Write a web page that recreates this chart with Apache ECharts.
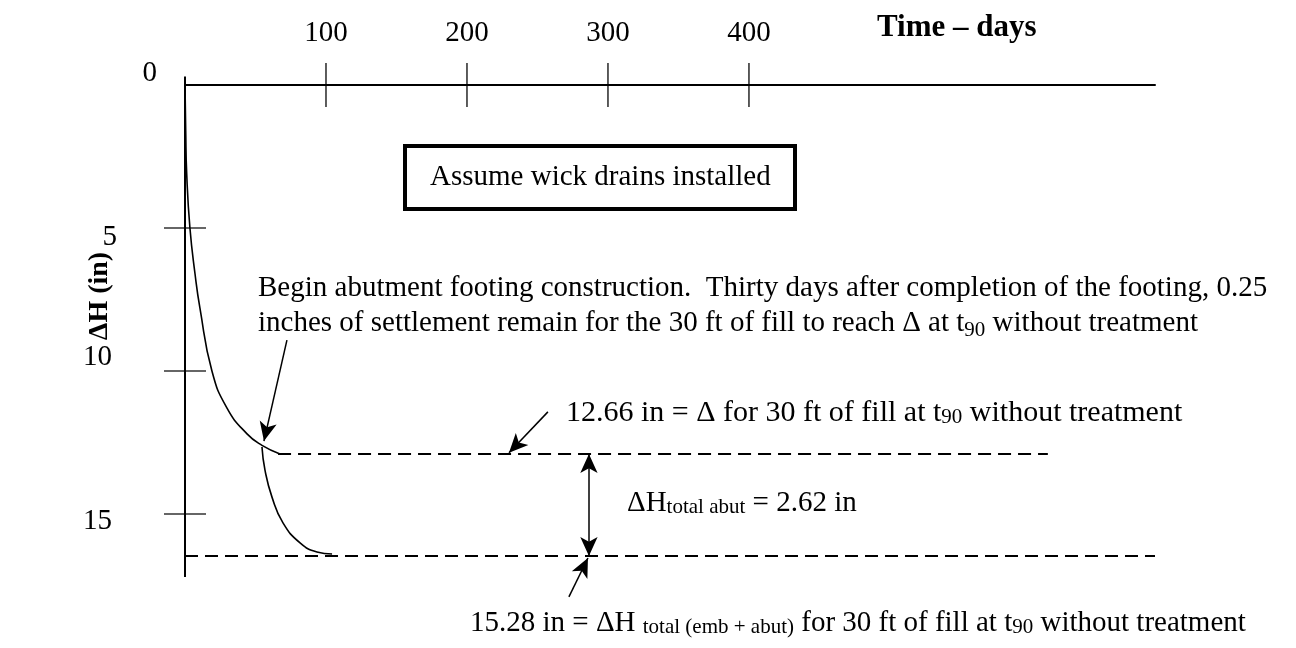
<!DOCTYPE html>
<html>
<head>
<meta charset="utf-8">
<title>Settlement vs time</title>
<script src="https://cdn.jsdelivr.net/npm/echarts@6/dist/echarts.min.js"></script>
<style>
	html, body { margin: 0; padding: 0; background: #fff; }
	#mainChart { width: 1296px; height: 648px; }
</style>
</head>
<body>
<div id="mainChart"></div>
<script>
// values: time in days, settlement dH in inches
var curve1Days = [0, 0.5, 1.2, 3.5, 7.1, 10.6, 19.1, 29.8, 44.0, 54.6, 67.4];
var curve1Settle = [0, 1.6, 3.1, 5.0, 6.6, 7.8, 10.0, 11.3, 12.2, 12.6, 12.9];
var curve2Days = [54.6, 56.7, 61.7, 69.5, 81.6, 93.6, 104.3];
var curve2Settle = [12.66, 13.46, 14.41, 15.31, 16.01, 16.33, 16.40];

var xTickValues = [100, 200, 300, 400];
var yTickValues = [5, 10, 15];
var yLabelValues = [0, 5, 10, 15];

var embLevel = 12.9;     // 12.66 in line
var totalLevel = 16.47;  // 15.28 in line
var embDashDays = [66, 612];
var totalDashDays = [0, 688];
var axisDays = [0, 688];
var axisSettle = [-0.3, 18.5];
var frameSettle = [-0.3, 17.2];

// annotation arrows, [from, to] in days / inches
var arrowFrom = [[72.3, 8.92], [257.4, 11.43], [286.5, 12.9], [272.3, 17.9]];
var arrowTo = [[56.0, 12.45], [229.8, 12.86], [286.5, 16.47], [285.8, 16.54]];

(function () {
	var FONT = "'Liberation Serif', 'Times New Roman', serif";
	var myChart = echarts.init(document.getElementById('mainChart'));

	function zip(a, b) {
		var out = [];
		for (var i = 0; i < a.length; i++) {
			out.push([a[i], b[i]]);
		}
		return out;
	}

	var xTicks = [];
	for (var i = 0; i < xTickValues.length; i++) xTicks.push([xTickValues[i], 0]);
	var yTicks = [];
	for (var j = 0; j < yTickValues.length; j++) yTicks.push([0, yTickValues[j]]);

	// arrow list: 0 begin-footing, 1 12.66 label, 2 double headed, 3 curved from bottom label
	var arrows = [];
	for (var k = 0; k < arrowFrom.length; k++) {
		var a = { coord: arrowFrom[k], symbol: k == 2 ? 'arrow' : 'none' };
		if (k == 3) a.lineStyle = { curveness: -0.25 };
		arrows.push([a, { coord: arrowTo[k], symbol: 'arrow' }]);
	}

	var yLabelStyle = { 0: 'a', 5: 'b', 10: 'c', 15: 'd' };
	var black = { color: '#000', width: 1.6 };

	function txt(x, y, text, extra) {
		var style = {
			text: text,
			fill: '#000',
			fontSize: 29,
			fontFamily: FONT,
			verticalAlign: 'middle',
			rich: { s: { fontSize: 21, lineHeight: 20, verticalAlign: 'bottom', fontFamily: FONT } }
		};
		for (var key in extra) style[key] = extra[key];
		return { type: 'text', x: x, y: y, silent: true, style: style };
	}

	var option = {
		backgroundColor: '#ffffff',
		animation: false,
		grid: { left: 185, top: 76.4, width: 970, height: 537.7 },
		xAxis: {
			type: 'value',
			position: 'top',
			min: axisDays[0],
			max: axisDays[1],
			axisLine: { onZero: true, lineStyle: { color: '#000', width: 2 } },
			axisTick: { show: false },
			splitLine: { show: false },
			axisLabel: {
				customValues: xTickValues,
				margin: 29,
				color: '#000',
				fontSize: 29,
				fontFamily: FONT
			}
		},
		yAxis: {
			type: 'value',
			inverse: true,
			min: axisSettle[0],
			max: axisSettle[1],
			axisLine: { show: false },
			axisTick: { show: false },
			splitLine: { show: false },
			axisLabel: {
				customValues: yLabelValues,
				margin: 28,
				color: '#000',
				fontSize: 29,
				fontFamily: FONT,
				formatter: function (v) {
					return '{' + yLabelStyle[v] + '|' + v + '}';
				},
				rich: {
					a: { fontSize: 29, fontFamily: FONT, padding: [0, 0, 24, 0] },
					b: { fontSize: 29, fontFamily: FONT, padding: [18, 40, 0, 0] },
					c: { fontSize: 29, fontFamily: FONT, padding: [0, 45, 28, 0] },
					d: { fontSize: 29, fontFamily: FONT, padding: [14, 45, 0, 0] }
				}
			}
		},
		series: [{
			name: 'frame',
			type: 'line',
			clip: false,
			silent: true,
			symbol: 'none',
			lineStyle: { color: '#000', width: 2 },
			data: [[0, frameSettle[0]], [0, frameSettle[1]]],
			markLine: {
				silent: true,
				symbol: ['none', 'arrow'],
				symbolSize: [13, 19],
				label: { show: false },
				lineStyle: { color: '#000', width: 1.5, type: 'solid' },
				data: arrows
			}
		}, {
			name: 'before footing',
			type: 'line',
			clip: false,
			silent: true,
			smooth: true,
			symbol: 'none',
			lineStyle: black,
			data: zip(curve1Days, curve1Settle)
		}, {
			name: 'after footing',
			type: 'line',
			clip: false,
			silent: true,
			smooth: true,
			symbol: 'none',
			lineStyle: black,
			data: zip(curve2Days, curve2Settle)
		}, {
			name: 'emb',
			type: 'line',
			clip: false,
			silent: true,
			symbol: 'none',
			lineStyle: { color: '#000', width: 2, type: [13, 7] },
			data: [[embDashDays[0], embLevel], [embDashDays[1], embLevel]]
		}, {
			name: 'total',
			type: 'line',
			clip: false,
			silent: true,
			symbol: 'none',
			lineStyle: { color: '#000', width: 2, type: [13, 7] },
			data: [[totalDashDays[0], totalLevel], [totalDashDays[1], totalLevel]]
		}, {
			name: 'xticks',
			type: 'scatter',
			clip: false,
			silent: true,
			symbol: 'rect',
			symbolSize: [1.6, 44],
			itemStyle: { color: '#000' },
			data: xTicks
		}, {
			name: 'yticks',
			type: 'scatter',
			clip: false,
			silent: true,
			symbol: 'rect',
			symbolSize: [42, 1.6],
			itemStyle: { color: '#000' },
			data: yTicks
		}],
		graphic: [
			{
				type: 'rect',
				silent: true,
				shape: { x: 405, y: 146, width: 390, height: 63 },
				style: { fill: '#fff', stroke: '#000', lineWidth: 4 }
			},
			txt(430, 177, 'Assume wick drains installed'),
			txt(258, 270.5, 'Begin abutment footing construction.  Thirty days after completion of the footing, 0.25\n' +
				'inches of settlement remain for the 30 ft of fill to reach \u0394 at t{s|90} without treatment',
				{ verticalAlign: 'top', lineHeight: 35 }),
			txt(566, 413, '12.66 in = \u0394 for 30 ft of fill at t{s|90} without treatment', { fontSize: 30 }),
			txt(627, 503, '\u0394H{s|total abut} = 2.62 in'),
			txt(470, 623, '15.28 in = \u0394H {s|total (emb + abut)} for 30 ft of fill at t{s|90} without treatment'),
			txt(877, 28, 'Time \u2013 days', { fontSize: 31, fontWeight: 'bold' }),
			{
				type: 'text',
				x: 100,
				y: 296,
				rotation: Math.PI / 2,
				silent: true,
				style: {
					text: '\u0394H (in)',
					fill: '#000',
					fontSize: 28,
					fontWeight: 'bold',
					fontFamily: FONT,
					align: 'center',
					verticalAlign: 'middle'
				}
			}
		]
	};
	myChart.setOption(option, true);
})();
</script>
</body>
</html>
